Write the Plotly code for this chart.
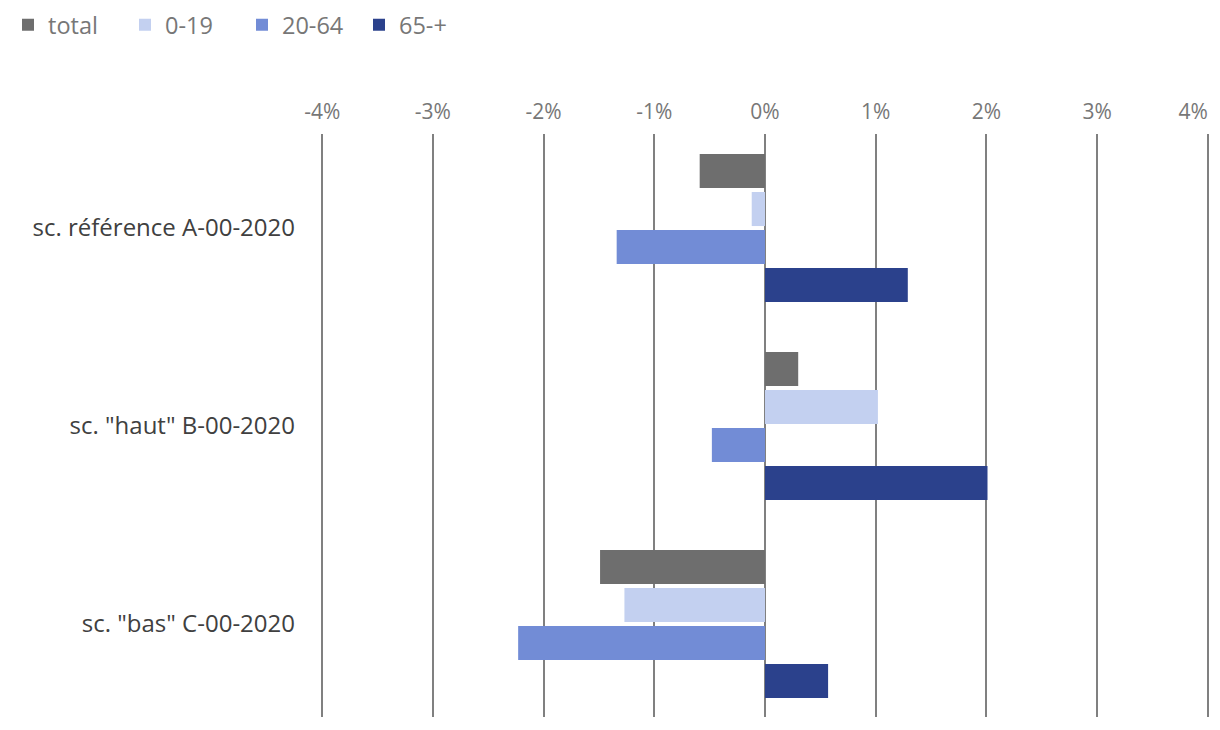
import plotly.graph_objects as go

categories = ['sc. référence A-00-2020', 'sc. "haut" B-00-2020', 'sc. "bas" C-00-2020']
series_names = ['total', '0-19', '20-64', '65-+']
total = [-0.59, 0.30, -1.49]
age_0_19 = [-0.12, 1.02, -1.27]
age_20_64 = [-1.34, -0.48, -2.23]
age_65_plus = [1.29, 2.01, 0.57]
tick_values = [-4, -3, -2, -1, 0, 1, 2, 3, 4]
tick_labels = ['-4%', '-3%', '-2%', '-1%', '0%', '1%', '2%', '3%', '4%']

colors = ['#6e6e6e', '#c3d0f0', '#728cd6', '#2b418c']
series = [total, age_0_19, age_20_64, age_65_plus]
x_range = [-4.02, 4.02]

fig = go.Figure()
for name, vals, col in zip(series_names, series, colors):
    fig.add_trace(go.Bar(y=categories, x=vals, name=name, orientation='h',
                         marker=dict(color=col, line=dict(width=0))))

# invisible helper trace so the overlaying axis (carrying the last tick label) is drawn
fig.add_trace(go.Scatter(x=[0], y=[categories[0]], xaxis='x2', mode='markers',
                         marker=dict(opacity=0), showlegend=False, hoverinfo='skip'))

axis_common = dict(range=x_range, side='top', showgrid=True, gridcolor='#808080', gridwidth=2,
                   showline=False, ticks='', tickfont=dict(size=21, color='#777777'),
                   ticklabelstandoff=10, automargin=False)

fig.update_layout(
    width=1212, height=722,
    margin=dict(l=312, r=10, t=126, b=13, autoexpand=False),
    paper_bgcolor='white', plot_bgcolor='white',
    font=dict(family='Open Sans', size=18, color='#777777'),
    barmode='group', bargap=0.232, bargroupgap=0.105,
    showlegend=True,
    legend=dict(orientation='h', xref='container', x=0, yref='container', y=0.9765,
                xanchor='left', yanchor='middle',
                font=dict(size=23.5, color='#777777'), traceorder='normal',
                entrywidth=72, entrywidthmode='pixels'),
    xaxis=dict(tickvals=tick_values[:-1], ticktext=tick_labels[:-1],
               zeroline=True, zerolinecolor='#808080', zerolinewidth=2, **axis_common),
    # last tick label sits left of its gridline so it stays inside the chart
    xaxis2=dict(tickvals=tick_values[-1:], ticktext=tick_labels[-1:], overlaying='x',
                anchor='y', zeroline=False, ticklabelposition='outside left',
                **axis_common),
    yaxis=dict(range=[2.47, -0.475], type='category', showgrid=False, zeroline=False,
               showline=False, ticks='', tickfont=dict(size=24, color='#404040'),
               ticklabelstandoff=24, automargin=False),
)
fig.write_html('out.html')
